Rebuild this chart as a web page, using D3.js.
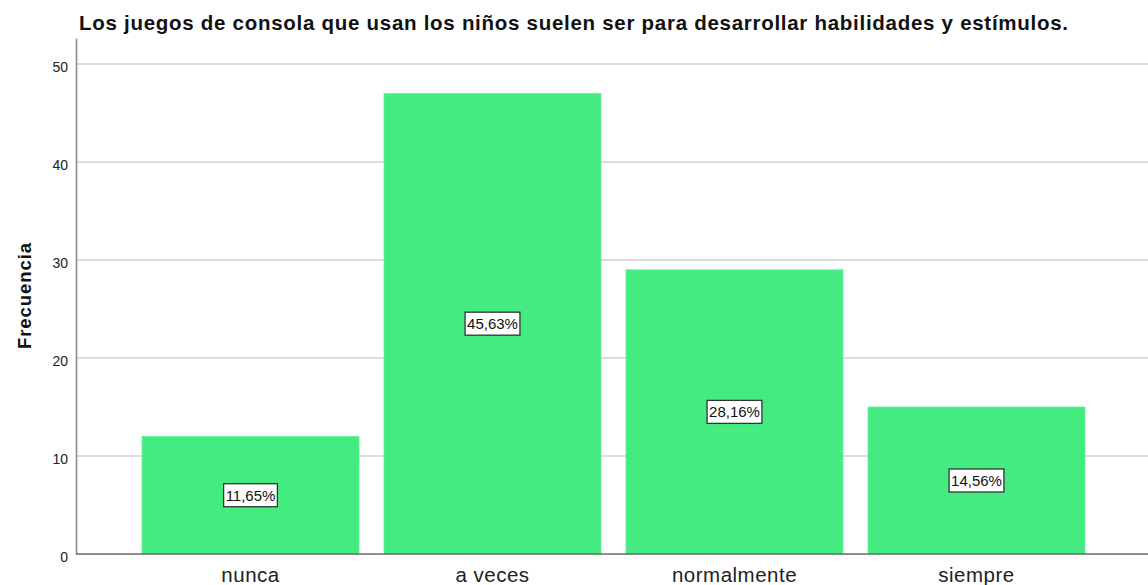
<!DOCTYPE html>
<html><head><meta charset="utf-8">
<script src="https://cdn.jsdelivr.net/npm/d3@7"></script>
<style>body{margin:0;background:#fff;}svg{display:block;}</style>
</head><body>
<script>
const categories = ["nunca", "a veces", "normalmente", "siempre"];
const counts = [12, 47, 29, 15];
const percentLabels = ["11,65%", "45,63%", "28,16%", "14,56%"];
const yTicks = [0, 10, 20, 30, 40, 50];
const title = "Los juegos de consola que usan los niños suelen ser para desarrollar habilidades y estímulos.";
const yTitle = "Frecuencia";

const W = 1148, H = 585;
const svg = d3.select("body").append("svg").attr("width", W).attr("height", H);
const font = "Liberation Sans, Arial, sans-serif";

const y = d3.scaleLinear().domain([0, 52.65]).range([554, 38]);
const x = d3.scaleBand().domain(categories).range([129.5, 1097.5]).paddingInner(25 / 242).paddingOuter(12.5 / 242);

// gridlines
svg.append("g").selectAll("line").data(yTicks.filter(d => d > 0)).join("line")
  .attr("x1", 77).attr("x2", W).attr("y1", d => y(d)).attr("y2", d => y(d))
  .attr("stroke", "#d2d2d2").attr("stroke-width", 1.5);

// bars
svg.append("g").selectAll("rect").data(counts).join("rect")
  .attr("x", (d, i) => x(categories[i])).attr("width", x.bandwidth())
  .attr("y", d => y(d)).attr("height", d => y(0) - y(d))
  .attr("fill", "#43eb80").attr("stroke", "#6ef09d").attr("stroke-width", 0.8);

// y axis
const yAxis = d3.axisLeft(y).tickValues(yTicks).tickSize(0).tickPadding(8);
const gy = svg.append("g").attr("transform", "translate(76,0)").call(yAxis);
gy.select(".domain").attr("stroke", "#8c8c8c").attr("stroke-width", 1.6);
gy.selectAll("text").attr("font-family", font).attr("font-size", 14).attr("fill", "#222").attr("dy", "0.55em");

// x axis baseline
const xAxis = d3.axisBottom(x).tickSize(0).tickPadding(13);
const gx = svg.append("g").attr("transform", "translate(0,554)").call(xAxis);
gx.select(".domain").attr("d", "M76,0H" + W).attr("stroke", "#6a6a6a").attr("stroke-width", 1.6);
gx.selectAll("text").attr("font-family", font).attr("font-size", 20.5).attr("fill", "#222")
  .attr("letter-spacing", 0.5);

// percent labels
const lab = svg.append("g").selectAll("g").data(counts).join("g")
  .attr("transform", (d, i) => `translate(${x(categories[i]) + x.bandwidth() / 2},${y(d / 2)})`);
lab.append("text").text((d, i) => percentLabels[i])
  .attr("text-anchor", "middle").attr("dy", "0.36em")
  .attr("font-family", font).attr("font-size", 15).attr("fill", "#111");
lab.each(function() {
  const g = d3.select(this);
  const bb = g.select("text").node().getBBox();
  g.insert("rect", "text").attr("x", bb.x - 2).attr("y", -11.5)
    .attr("width", bb.width + 4).attr("height", 23)
    .attr("fill", "#fff").attr("stroke", "#333").attr("stroke-width", 1.3);
});

// title
svg.append("text").text(title).attr("x", 79).attr("y", 29.5)
  .attr("font-family", font).attr("font-weight", "bold").attr("font-size", 20.5).attr("fill", "#111")
  .attr("textLength", 989).attr("lengthAdjust", "spacing");

// y title
svg.append("text").text(yTitle)
  .attr("transform", "translate(31,296) rotate(-90)").attr("text-anchor", "middle")
  .attr("font-family", font).attr("font-weight", "bold").attr("font-size", 18.5).attr("fill", "#111")
  .attr("textLength", 106).attr("lengthAdjust", "spacing");
</script>
</body></html>
